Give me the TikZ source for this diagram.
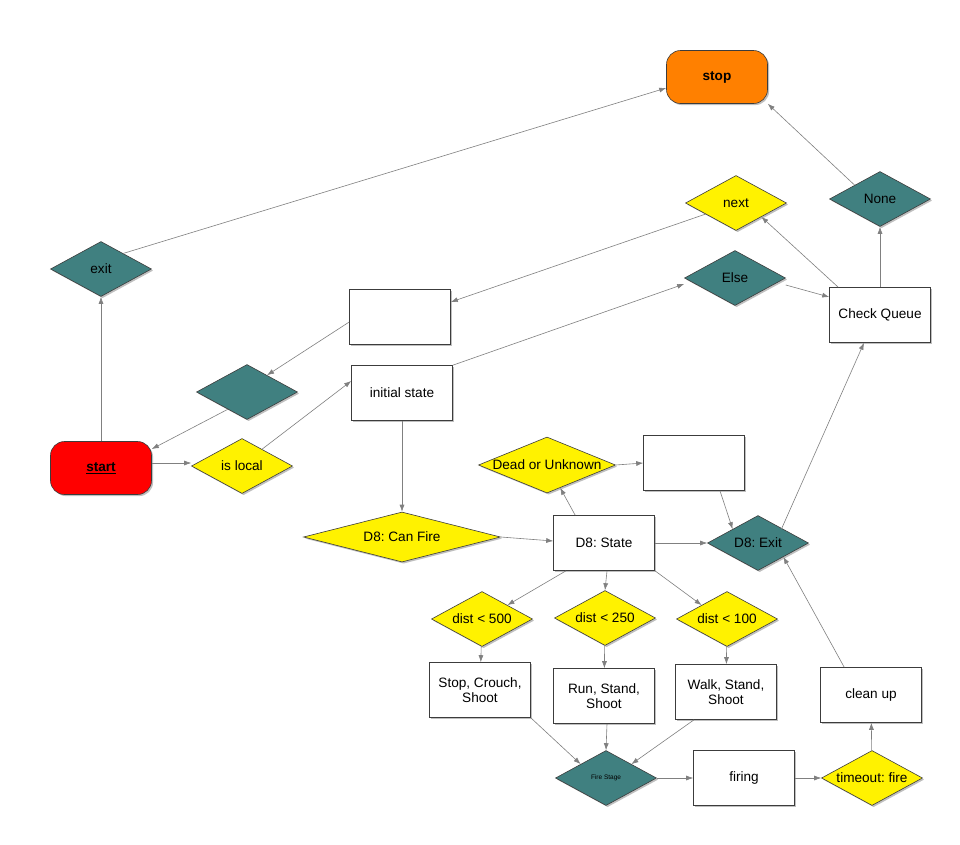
\documentclass[tikz,border=0pt]{standalone}
\usepackage{fontspec}
\setmainfont{Liberation Sans}
\usetikzlibrary{shapes.geometric,arrows.meta,shadows}
\definecolor{teal}{HTML}{408080}
\definecolor{stoporange}{HTML}{FF8000}
\definecolor{linegray}{HTML}{808080}
\definecolor{edgegray}{HTML}{3C3C3C}
% zero-width label so a diamond keeps its given size
\newcommand{\zw}[1]{\makebox[0pt][c]{#1}}
\frenchspacing
\tikzset{
  base/.style={draw=edgegray, line width=0.6pt, font=\fontsize{13.6}{15.5}\selectfont,
    align=center, inner sep=0pt,
    drop shadow={shadow xshift=1.6pt, shadow yshift=-1.6pt, opacity=0.25, fill=black}},
  box/.style={base, rectangle, fill=white, minimum width=101pt, minimum height=55pt},
  term/.style={base, rectangle, rounded corners=14pt, minimum width=101pt, minimum height=53pt},
  dia/.style={base, diamond, minimum width=101pt, minimum height=55pt},
  ydia/.style={dia, fill=yellow},
  tdia/.style={dia, fill=teal},
  link/.style={draw=linegray, line width=0.6pt, -{Latex[length=7pt,width=5pt]}},
}
\begin{document}
\begin{tikzpicture}[x=1pt,y=-1pt]
\useasboundingbox[fill=white] (0,0) rectangle (960,844);

% terminals
\node[term, fill=stoporange, font=\fontsize{13.6}{15.5}\selectfont\bfseries] (stop) at (717,77) {stop};
\node[term, fill=red, font=\fontsize{13.6}{15.5}\selectfont\bfseries] (start) at (101,468) {\underline{start}};

% left column
\node[tdia] (exit) at (101,269) {\zw{exit}};
\node[ydia] (islocal) at (242,466) {\zw{is local}};
\node[box] (blanka) at (400,317) {};
\node[tdia] (blankd) at (247,392) {};
\node[box] (init) at (402,393) {initial state};

% queue handling
\node[tdia] (else) at (735,278) {\zw{Else}};
\node[ydia] (next) at (736,203) {\zw{next}};
\node[tdia] (none) at (880,199) {\zw{None}};
\node[box] (queue) at (880,315) {Check Queue};

% D8 block
\node[ydia, minimum width=197pt, minimum height=50pt] (canfire) at (402,537) {\zw{D8: Can Fire}};
\node[ydia, minimum width=137pt, minimum height=56pt] (dead) at (547,465) {\zw{Dead or Unknown}};
\node[box] (blankb) at (694,463) {};
\node[box] (state) at (604,543) {D8: State};
\node[tdia] (d8exit) at (758,543) {\zw{D8: Exit}};

\node[ydia] (d500) at (482,619) {\zw{dist < 500}};
\node[ydia] (d250) at (605,618) {\zw{dist < 250}};
\node[ydia] (d100) at (727,619) {\zw{dist < 100}};

\node[box] (crouch) at (480,690) {Stop, Crouch,\\Shoot};
\node[box] (run) at (604,696) {Run, Stand,\\Shoot};
\node[box] (walk) at (726,692) {Walk, Stand,\\Shoot};

\node[tdia, font=\fontsize{6.5}{7.5}\selectfont] (fire) at (606,778) {\zw{Fire Stage}};
\node[box] (firing) at (744,778) {firing};
\node[ydia] (timeout) at (872,778) {\zw{timeout: fire}};
\node[box] (clean) at (871,695) {clean up};

% connectors
\draw[link] (start) -- (exit);
\draw[link] (exit.35) -- (stop.west |- 0,88);
\draw[link] (start.east |- 0,463) -- (islocal.west |- 0,463);
\draw[link] (islocal.40) -- (init.west |- 0,381);
\draw[link] (init.north east) -- (else.west |- 0,284);
\draw[link] (else.east |- 0,285) -- (queue.west |- 0,297);
\draw[link] ([xshift=9pt]queue.north west) -- (next.south east);
\draw[link] (next.200) -- (blanka.east |- 0,302);
\draw[link] (blanka.west |- 0,322) -- (blankd.40);
\draw[link] (blankd.222) -- (start.east |- 0,449);
\draw[link] (queue) -- (none);
\draw[link] (none.north west) -- (stop.south east);
\draw[link] (init) -- (canfire);
\draw[link] (canfire.east) -- (state.west |- 0,541);
\draw[link] (state.north west) ++(22,0) -- (dead.-60);
\draw[link] (dead.east) -- (blankb.west |- 0,463);
\draw[link] (blankb.south) ++(26,0) -- (d8exit.north west);
\draw[link] (state) -- (d8exit);
\draw[link] (d8exit.north east) ++(-2,0) -- ([xshift=-16pt]queue.south);
\draw[link] (state.south) ++(-38,0) -- (d500.north east);
\draw[link] (state.south) ++(3,0) -- (d250.north);
\draw[link] (state.south) ++(51,0) -- (d100.north west);
\draw[link] (d500) -- (crouch);
\draw[link] (d250) -- (run);
\draw[link] (d100) -- (walk);
\draw[link] (crouch.south east) -- (fire.north west);
\draw[link] (run.south) ++(3,0) -- (fire.north);
\draw[link] (walk.south) ++(-32,0) -- (fire.north east);
\draw[link] (fire) -- (firing);
\draw[link] (firing) -- (timeout);
\draw[link] (timeout) -- (clean);
\draw[link] (clean.north west) ++(24,0) -- (d8exit.south east);
\end{tikzpicture}
\end{document}
